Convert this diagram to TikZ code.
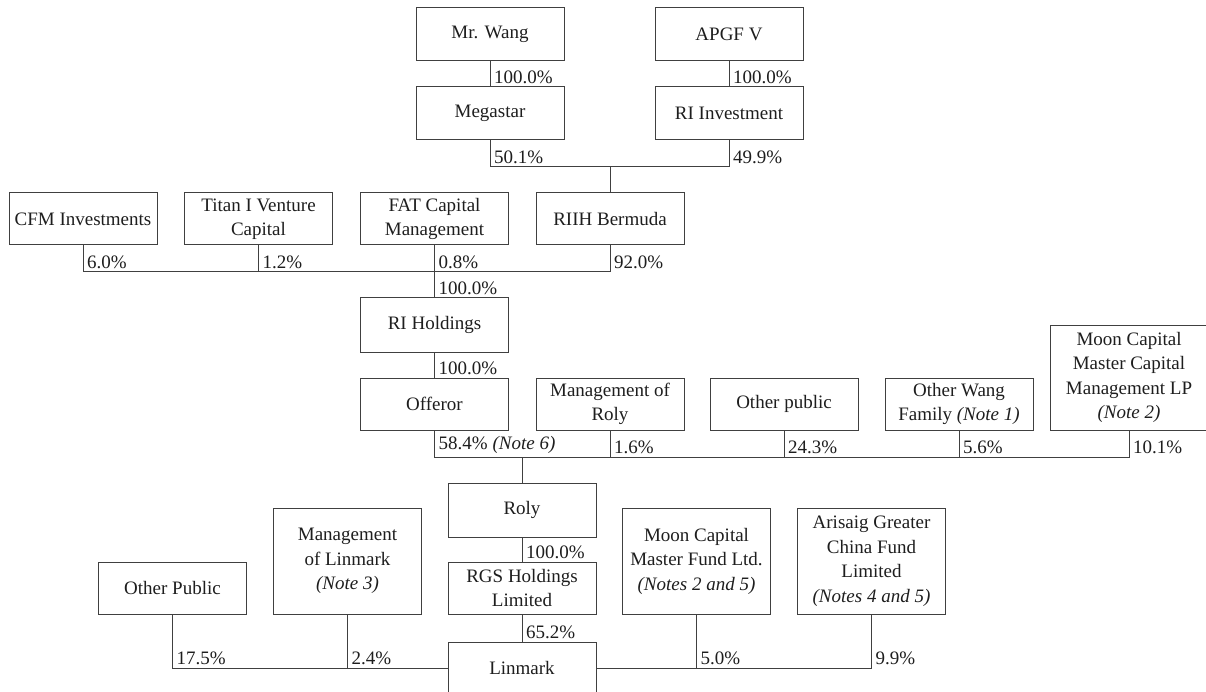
\documentclass[tikz,border=0pt]{standalone}
\usepackage{fontspec}
\setmainfont{Liberation Serif}
\definecolor{linecol}{HTML}{404040}
\definecolor{txtcol}{HTML}{1E1E1E}
\tikzset{
  box/.style={draw=linecol, line width=1pt, minimum width=148pt, align=center,
    inner sep=0pt, text=txtcol, font=\fontsize{19}{24.5}\selectfont},
  lab/.style={anchor=south west, inner xsep=4pt, inner ysep=3pt, text=txtcol,
    font=\fontsize{19}{24.5}\selectfont},
  conn/.style={draw=linecol, line width=1pt}
}
\begin{document}
\begin{tikzpicture}[x=1pt, y=-1pt]
\useasboundingbox (0,0) rectangle (1206,692);
\clip (0,0) rectangle (1206,692);
\fill[white] (0,0) rectangle (1206,692);
% row 1
\node[box, minimum height=53pt] (wang) at (490,34.5) {Mr. Wang};
\node[box, minimum height=53pt] (apgf) at (729,34.5) {APGF V};
% row 2
\node[box, minimum height=53pt] (mega) at (490,113.5) {Megastar};
\node[box, minimum height=53pt] (riinv) at (729,113.5) {RI Investment};
% row 3
\node[box, minimum height=52pt] (cfm) at (83,219) {CFM Investments};
\node[box, minimum height=52pt] (titan) at (258.5,219) {Titan I Venture\\Capital};
\node[box, minimum height=52pt] (fat) at (434.5,219) {FAT Capital\\Management};
\node[box, minimum height=52pt] (riih) at (610,219) {RIIH Bermuda};
% RI Holdings
\node[box, minimum height=54pt] (rihold) at (434.5,325) {RI Holdings};
% row offeror
\node[box, minimum height=52pt] (offeror) at (434.5,404) {Offeror};
\node[box, minimum height=52pt] (mroly) at (610,404) {Management of\\Roly};
\node[box, minimum height=52pt] (opub) at (784,404) {Other public};
\node[box, minimum height=52pt] (owang) at (959,404) {Other Wang\\Family \textit{(Note 1)}};
\node[box, minimum height=105pt, minimum width=158pt] (moonlp) at (1129,377.5) {Moon Capital\\Master Capital\\Management LP\\\textit{(Note 2)}};
% Roly etc.
\node[box, minimum height=54pt] (roly) at (522,510) {Roly};
\node[box, minimum height=52pt] (rgs) at (522,588) {RGS Holdings\\Limited};
\node[box, minimum height=52pt] (linmark) at (522,668) {Linmark};
\node[box, minimum height=52pt] (opub2) at (172.5,588) {Other Public};
\node[box, minimum height=106pt] (mlin) at (347.5,561) {Management\\of Linmark\\\textit{(Note 3)}};
\node[box, minimum height=106pt] (moonf) at (696.5,561) {Moon Capital\\Master Fund Ltd.\\\textit{(Notes 2 and 5)}};
\node[box, minimum height=106pt] (aris) at (871.5,561) {Arisaig Greater\\China Fund\\Limited\\\textit{(Notes 4 and 5)}};
% bar coordinates
\coordinate (bar1) at (610,167);
\coordinate (bar2) at (0,272);
\coordinate (bar3) at (0,457);
% connectors
\draw[conn] (wang.south) -- (mega.north);
\draw[conn] (apgf.south) -- (riinv.north);
\draw[conn] (mega.south) -- (mega.south |- bar1) -- (riinv.south |- bar1) -- (riinv.south);
\draw[conn] (bar1) -- (riih.north);
\draw[conn] (cfm.south) -- (cfm.south |- bar2) -- (riih.south |- bar2) -- (riih.south);
\draw[conn] (titan.south) -- (titan.south |- bar2);
\draw[conn] (fat.south) -- (rihold.north);
\draw[conn] (rihold.south) -- (offeror.north);
\draw[conn] (offeror.south) -- (offeror.south |- bar3) -- (moonlp.south |- bar3) -- (moonlp.south);
\draw[conn] (mroly.south) -- (mroly.south |- bar3);
\draw[conn] (opub.south) -- (opub.south |- bar3);
\draw[conn] (owang.south) -- (owang.south |- bar3);
\draw[conn] (roly.north |- bar3) -- (roly.north);
\draw[conn] (roly.south) -- (rgs.north);
\draw[conn] (rgs.south) -- (linmark.north);
\draw[conn] (opub2.south) -- (opub2.south |- linmark.west) -- (linmark.west);
\draw[conn] (mlin.south) -- (mlin.south |- linmark.west);
\draw[conn] (linmark.east) -- (aris.south |- linmark.east) -- (aris.south);
\draw[conn] (moonf.south) -- (moonf.south |- linmark.east);
% labels
\node[lab] (l1) at (mega.north) {100.0\%};
\node[lab] (l2) at (riinv.north) {100.0\%};
\node[lab] (l3) at (mega.south |- bar1) {50.1\%};
\node[lab] (l4) at (riinv.south |- bar1) {49.9\%};
\node[lab] (l5) at (cfm.south |- bar2) {6.0\%};
\node[lab] (l6) at (titan.south |- bar2) {1.2\%};
\node[lab] (l7) at (fat.south |- bar2) {0.8\%};
\node[lab] (l8) at (riih.south |- bar2) {92.0\%};
\node[lab] (l9) at (rihold.north) {100.0\%};
\node[lab] (l10) at (offeror.north) {100.0\%};
\node[lab] (l11) at (offeror.south |- bar3) {58.4\% \textit{(Note 6)}};
\node[lab] (l12) at (mroly.south |- bar3) {1.6\%};
\node[lab] (l13) at (opub.south |- bar3) {24.3\%};
\node[lab] (l14) at (owang.south |- bar3) {5.6\%};
\node[lab] (l15) at (moonlp.south |- bar3) {10.1\%};
\node[lab] (l16) at (rgs.north) {100.0\%};
\node[lab] (l17) at (linmark.north) {65.2\%};
\node[lab] (l18) at (opub2.south |- linmark.west) {17.5\%};
\node[lab] (l19) at (mlin.south |- linmark.west) {2.4\%};
\node[lab] (l20) at (moonf.south |- linmark.east) {5.0\%};
\node[lab] (l21) at (aris.south |- linmark.east) {9.9\%};
\end{tikzpicture}
\end{document}
